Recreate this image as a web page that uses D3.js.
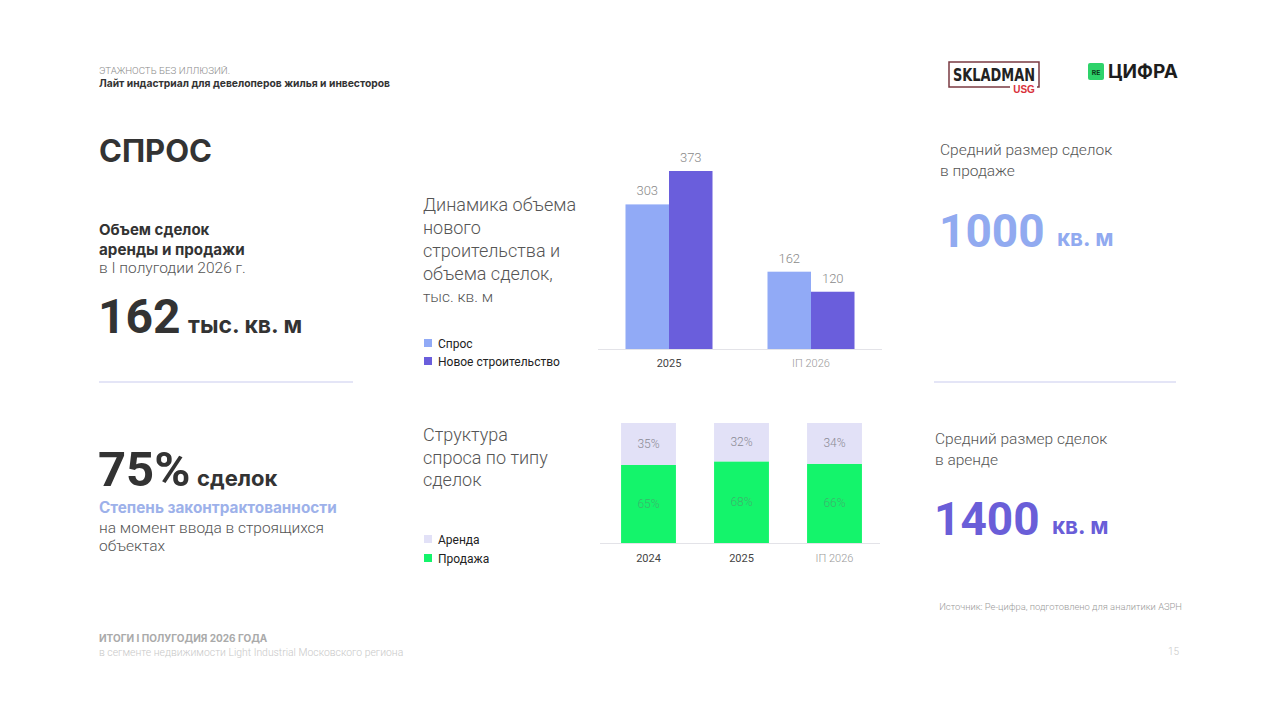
<!DOCTYPE html>
<html>
<head>
<meta charset="utf-8">
<script src="https://cdn.jsdelivr.net/npm/d3@7"></script>
<style>
  body { margin: 0; background: #fff; }
  svg { display: block; font-family: Roboto, "Noto Sans", sans-serif; }
  .light { font-weight: 300; }
  .bold { font-weight: 700; }
  .inter { font-family: Inter, Roboto, sans-serif; font-weight: 700; }
</style>
</head>
<body>
<div id="slide"></div>
<script>
// data for the two charts
var periods = ["2025", "IП 2026"];
var seriesNames = ["Спрос", "Новое строительство"];
var demand = [303, 162];
var newBuild = [373, 120];

var years = ["2024", "2025", "IП 2026"];
var structNames = ["Аренда", "Продажа"];
var rent = [35, 32, 34];
var sale = [65, 68, 66];

var colSpros = "#91aaf6", colNew = "#6a5edc";
var colRent = "#e2e1f7", colSale = "#14f46b";

var width = 1280, height = 720;

var svg = d3.select("#slide").append("svg")
    .attr("width", width)
    .attr("height", height);

// small helper for text
function txt(x, y, s, size, color, cls, anchor) {
  return svg.append("text")
      .attr("x", x).attr("y", y)
      .attr("font-size", size)
      .attr("fill", color)
      .attr("class", cls || "")
      .attr("text-anchor", anchor || "start")
      .text(s);
}

// header
txt(99, 74, "ЭТАЖНОСТЬ БЕЗ ИЛЛЮЗИЙ.", 9.7, "#8a8a8a", "light");
txt(99, 87, "Лайт индастриал для девелоперов жилья и инвесторов", 10.3, "#333", "inter");

// logos
var logo = svg.append("g");
logo.append("path")
    .attr("d", "M1010,87 L949,87 L949,62 L1039,62 L1039,87 L1037,87")
    .attr("fill", "none").attr("stroke", "#7a3a42").attr("stroke-width", 1.5);
logo.append("text").attr("x", 994).attr("y", 81).attr("text-anchor", "middle")
    .attr("font-size", 17).attr("font-weight", 700).attr("fill", "#222")
    .attr("font-family", "'Liberation Sans Narrow', 'DejaVu Sans Condensed', sans-serif")
    .attr("textLength", 82).attr("lengthAdjust", "spacingAndGlyphs")
    .text("SKLADMAN");
logo.append("text").attr("x", 1024).attr("y", 93).attr("text-anchor", "middle")
    .attr("font-size", 10).attr("font-weight", 700).attr("fill", "#d8303a")
    .attr("font-family", "'Liberation Sans Narrow', sans-serif")
    .text("USG");
logo.append("rect").attr("x", 1088).attr("y", 63).attr("width", 16).attr("height", 17)
    .attr("rx", 2).attr("fill", "#2ed36a");
logo.append("text").attr("x", 1096).attr("y", 75).attr("text-anchor", "middle")
    .attr("font-size", 7).attr("font-weight", 700).attr("fill", "#0b3b1c").text("RE");
logo.append("text").attr("x", 1108).attr("y", 78)
    .attr("font-size", 19).attr("fill", "#1d1d1d").attr("class", "inter").text("ЦИФРА");

// left column
txt(99, 162, "СПРОС", 31, "#333", "inter");
txt(99, 235, "Объем сделок", 15, "#333", "inter");
txt(99, 255, "аренды и продажи", 15.2, "#333", "inter");
txt(99, 273, "в I полугодии 2026 г.", 15.5, "#555", "light");
txt(98, 333, "162", 48, "#333", "bold");
txt(188, 333, "тыс. кв. м", 23, "#333", "inter");

svg.append("line").attr("x1", 99).attr("x2", 353).attr("y1", 382).attr("y2", 382)
    .attr("stroke", "#c9cbee").attr("stroke-width", 1);

txt(98, 486, "75%", 49, "#333", "bold");
txt(197, 486, "сделок", 22, "#333", "inter");
txt(99, 513, "Степень законтрактованности", 15.3, "#9db1ea", "inter");
txt(99, 533, "на момент ввода в строящихся", 15.5, "#555", "light");
txt(99, 551, "объектах", 15.5, "#555", "light");

// right column
txt(940, 155, "Средний размер сделок", 15.5, "#555", "light");
txt(940, 176, "в продаже", 15.5, "#555", "light");
txt(939, 247, "1000", 46, "#91aaf0", "bold");
txt(1057, 246, "кв. м", 22.5, "#91aaf0", "inter");

svg.append("line").attr("x1", 934).attr("x2", 1176).attr("y1", 382).attr("y2", 382)
    .attr("stroke", "#c9cbee").attr("stroke-width", 1);

txt(935, 444, "Средний размер сделок", 15.5, "#555", "light");
txt(935, 465, "в аренде", 15.5, "#555", "light");
txt(934, 535, "1400", 46, "#6a5ed8", "bold");
txt(1052, 534, "кв. м", 22.5, "#6a5ed8", "inter");

// chart 1 titles and legend
["Динамика объема", "нового", "строительства и", "объема сделок,"].forEach(function(s, i) {
  txt(423, 211 + i * 23, s, 18, "#555", "light");
});
txt(423, 302, "тыс. кв. м", 15.5, "#555", "light");

[colSpros, colNew].forEach(function(c, i) {
  svg.append("rect").attr("x", 424).attr("y", 339 + i * 18).attr("width", 8).attr("height", 8).attr("fill", c);
  txt(438, 348 + i * 18, seriesNames[i], 12, "#222", "");
});

// chart 1: grouped bars
var x0 = d3.scaleBand().domain(periods).range([598, 882]);
var x1 = d3.scaleBand().domain(seriesNames).range([0, x0.bandwidth()]).paddingOuter(0.632);
var y1 = d3.scaleLinear().domain([0, d3.max(newBuild)]).range([349, 171]);

var groups = svg.append("g").selectAll("g")
    .data(periods.map(function(p, i) { return { p: p, vals: [demand[i], newBuild[i]] }; }))
    .join("g")
    .attr("transform", function(d) { return "translate(" + x0(d.p) + ",0)"; });

groups.selectAll("rect")
    .data(function(d) { return d.vals.map(function(v, j) { return { k: seriesNames[j], v: v }; }); })
    .join("rect")
    .attr("x", function(d) { return x1(d.k); })
    .attr("y", function(d) { return y1(d.v); })
    .attr("width", x1.bandwidth())
    .attr("height", function(d) { return y1(0) - y1(d.v); })
    .attr("fill", function(d, j) { return j === 0 ? colSpros : colNew; });

groups.selectAll("text.val")
    .data(function(d) { return d.vals.map(function(v, j) { return { k: seriesNames[j], v: v }; }); })
    .join("text")
    .attr("class", "val light")
    .attr("x", function(d) { return x1(d.k) + x1.bandwidth() / 2; })
    .attr("y", function(d) { return y1(d.v) - 9; })
    .attr("text-anchor", "middle")
    .attr("font-size", 13)
    .attr("fill", "#8a8a8a")
    .text(function(d) { return d.v; });

svg.append("line").attr("x1", 598).attr("x2", 882).attr("y1", 349.5).attr("y2", 349.5)
    .attr("stroke", "#e3e3e8");

var ax1 = svg.append("g").attr("transform", "translate(0,356)")
    .call(d3.axisBottom(x0).tickSize(0));
ax1.select(".domain").remove();
ax1.selectAll("text")
    .attr("font-family", "Roboto, sans-serif")
    .attr("font-size", 11)
    .attr("fill", function(d) { return d === "IП 2026" ? "#999" : "#444"; })
    .attr("font-weight", function(d) { return d === "IП 2026" ? 300 : 400; });

// chart 2 titles and legend
["Структура", "спроса по типу", "сделок"].forEach(function(s, i) {
  txt(423, 441 + i * 22.5, s, 18, "#555", "light");
});
[colRent, colSale].forEach(function(c, i) {
  svg.append("rect").attr("x", 424).attr("y", 535 + i * 19).attr("width", 8).attr("height", 8).attr("fill", c);
  txt(438, 544 + i * 19, structNames[i], 12, "#222", "");
});

// chart 2: stacked bars
var xs = d3.scaleBand().domain(years).range([602, 881]).paddingInner(0.41).paddingOuter(0.205);
var ys = d3.scaleLinear().domain([0, 100]).range([543, 423]);

var stackData = years.map(function(yr, i) { return { year: yr, "Продажа": sale[i], "Аренда": rent[i] }; });
var stacked = d3.stack().keys(["Продажа", "Аренда"])(stackData);

var layers = svg.append("g").selectAll("g")
    .data(stacked)
    .join("g")
    .attr("fill", function(d) { return d.key === "Продажа" ? colSale : colRent; });

layers.selectAll("rect")
    .data(function(d) { return d; })
    .join("rect")
    .attr("x", function(d) { return xs(d.data.year); })
    .attr("y", function(d) { return ys(d[1]); })
    .attr("width", xs.bandwidth())
    .attr("height", function(d) { return ys(d[0]) - ys(d[1]); });

layers.each(function(layer) {
  d3.select(this).selectAll("text")
      .data(layer)
      .join("text")
      .attr("class", "light")
      .attr("x", function(d) { return xs(d.data.year) + xs.bandwidth() / 2; })
      .attr("y", function(d) { return (ys(d[0]) + ys(d[1])) / 2 + 4; })
      .attr("text-anchor", "middle")
      .attr("font-size", 12)
      .attr("fill", layer.key === "Продажа" ? "#3cb46c" : "#8a8a94")
      .text(function(d) { return (d[1] - d[0]) + "%"; });
});

svg.append("line").attr("x1", 600).attr("x2", 880).attr("y1", 543.5).attr("y2", 543.5)
    .attr("stroke", "#e3e3e8");

var ax2 = svg.append("g").attr("transform", "translate(0,551)")
    .call(d3.axisBottom(xs).tickSize(0));
ax2.select(".domain").remove();
ax2.selectAll("text")
    .attr("font-family", "Roboto, sans-serif")
    .attr("font-size", 11)
    .attr("fill", function(d) { return d === "IП 2026" ? "#999" : "#444"; })
    .attr("font-weight", function(d) { return d === "IП 2026" ? 300 : 400; });

// source and footer
txt(1182, 610, "Источник: Ре-цифра, подготовлено для аналитики АЗРН", 9.4, "#9a9a9a", "light", "end");
txt(99, 642, "ИТОГИ I ПОЛУГОДИЯ 2026 ГОДА", 10, "#aaa", "inter");
txt(99, 656, "в сегменте недвижимости Light Industrial Московского региона", 10.4, "#c8c8c8", "light");
txt(1179, 655, "15", 10, "#c8c8c8", "light", "end");
</script>
</body>
</html>
